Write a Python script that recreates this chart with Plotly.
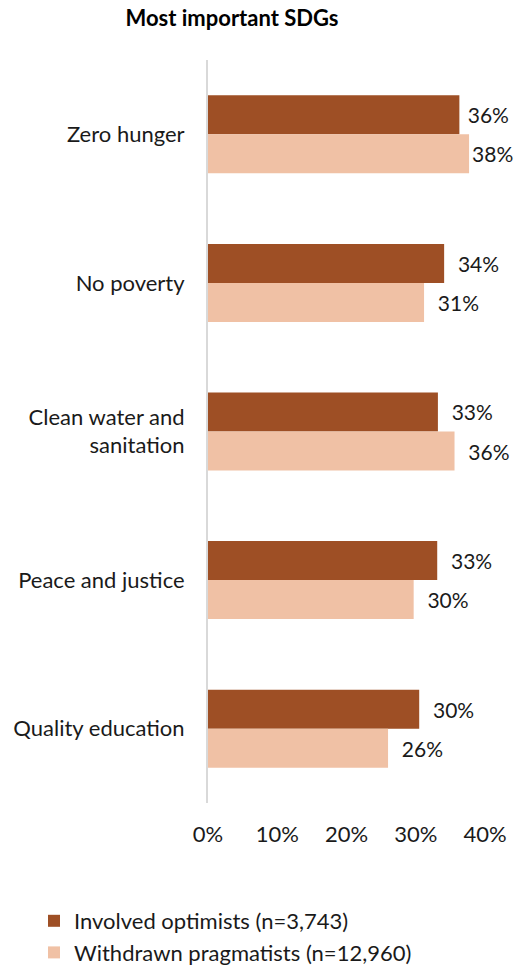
import plotly.graph_objects as go

categories = ["Zero hunger", "No poverty", "Clean water and<br>sanitation", "Peace and justice", "Quality education"]
involved = [36.3, 34.1, 33.2, 33.1, 30.5]
withdrawn = [37.7, 31.2, 35.6, 29.7, 26.0]
series_names = ["Involved optimists (n=3,743)", "Withdrawn pragmatists (n=12,960)"]
x_ticks = [0, 10, 20, 30, 40]
x_ticktext = [f"{v}%" for v in x_ticks]

FONT = "Lato, 'Open Sans', sans-serif"
DARK = "#9E4F25"
LIGHT = "#F0C1A5"
TEXT = "#1a1a1a"
FS = 22
XMAX = 40

def labels(vals):
    out = []
    for v in vals:
        if v >= 37:
            pad = ""
        elif v >= 36:
            pad = "\u00a0"
        else:
            pad = "\u00a0\u00a0"
        out.append(pad + f"{round(v):.0f}%")
    return out

fig = go.Figure()
fig.add_trace(go.Bar(
    y=categories, x=involved, orientation="h", name=series_names[0],
    marker=dict(color=DARK, line=dict(width=0)),
    text=labels(involved), textposition="outside", cliponaxis=False,
    textfont=dict(family=FONT, size=21, color=TEXT),
    legendgroup="a", hoverinfo="skip",
))
fig.add_trace(go.Bar(
    y=categories, x=withdrawn, orientation="h", name=series_names[1],
    marker=dict(color=LIGHT, line=dict(width=0)),
    text=labels(withdrawn), textposition="outside", cliponaxis=False,
    textfont=dict(family=FONT, size=21, color=TEXT),
    legendgroup="b", hoverinfo="skip",
))

fig.update_layout(
    template="none",
    width=515, height=969,
    margin=dict(l=208, r=30, t=60, b=166, autoexpand=False),
    paper_bgcolor="white", plot_bgcolor="white",
    barmode="group", bargap=0.475, bargroupgap=0,
    font=dict(family=FONT, size=FS, color=TEXT),
    title=dict(text="<b>Most important SDGs</b>", x=232/515, xref="container", xanchor="center",
               y=1-18/969, yref="container", yanchor="middle",
               font=dict(family=FONT, size=22, color="#000000")),
    showlegend=True,
    legend=dict(orientation="v", traceorder="normal", xref="container", yref="container",
                x=34/515, xanchor="left", y=1-900/969, yanchor="top",
                font=dict(family=FONT, size=FS, color=TEXT),
                tracegroupgap=23, itemclick=False),
)
fig.update_xaxes(range=[0, XMAX], tickvals=x_ticks, ticktext=x_ticktext, showgrid=False,
                 zeroline=False, showline=False, ticks="", ticklabelstandoff=16,
                 automargin=False, tickangle=0,
                 tickfont=dict(family=FONT, size=FS, color=TEXT), fixedrange=True)
fig.update_yaxes(autorange="reversed", showgrid=False, zeroline=False, showline=True,
                 linecolor="#D9D9D9", linewidth=2, ticks="", ticklabelstandoff=17,
                 automargin=False,
                 tickfont=dict(family=FONT, size=FS, color=TEXT), fixedrange=True)

fig.write_html("out.html", config={"displayModeBar": False},
               post_script="document.body.style.margin='0';")
